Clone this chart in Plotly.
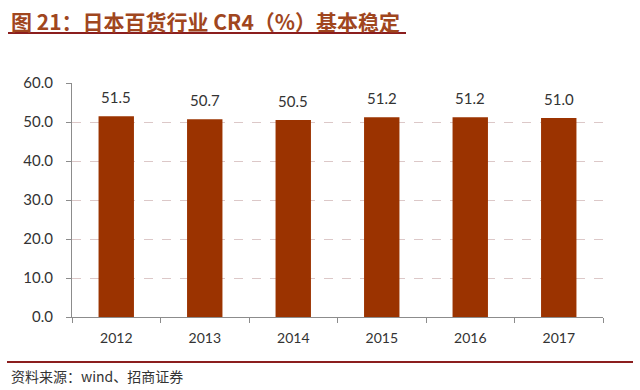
import plotly.graph_objects as go

years = ["2012", "2013", "2014", "2015", "2016", "2017"]
cr4 = [51.5, 50.7, 50.5, 51.2, 51.2, 51.0]
y_ticks = [0, 10, 20, 30, 40, 50, 60]

title_text = "图 21：日本百货行业 CR4（%）基本稳定"
source_text = "资料来源：wind、招商证券"

W, H = 640, 390
L, R, T, B = 72, 603, 83, 317
pw, ph = R - L, B - T

def px(x):
    return (x - L) / pw

def py(y):
    return (B - y) / ph

fig = go.Figure()
fig.add_trace(go.Bar(
    x=years, y=cr4,
    marker=dict(color="#9B3300", line=dict(width=0)),
    width=0.4,
    cliponaxis=False,
))

label_annots = [
    dict(x=i, y=v, xref="x", yref="y", text=f"{v:.1f}", showarrow=False,
         xanchor="center", yanchor="middle", yshift=19,
         font=dict(family="Lato, Liberation Sans, sans-serif", size=15, color="#333333"))
    for i, v in enumerate(cr4)
]

fig.update_layout(
    width=W, height=H,
    margin=dict(l=L, r=W - R, t=T, b=H - B, autoexpand=False),
    paper_bgcolor="white", plot_bgcolor="white",
    showlegend=False,
    font=dict(family="Lato, Liberation Sans, sans-serif", size=14, color="#333333"),
    xaxis=dict(
        type="category",
        range=[-0.5, len(years) - 0.5],
        showline=True, linecolor="#8c8c8c", linewidth=1,
        ticks="outside", ticklen=5, tickcolor="#8c8c8c",
        tickson="boundaries",
        ticklabelstandoff=8,
        showgrid=False,
        tickfont=dict(size=14, color="#333333"),
    ),
    yaxis=dict(
        range=[0, 60],
        tickvals=y_ticks,
        tickformat=".1f",
        showline=True, linecolor="#8c8c8c", linewidth=1,
        ticks="outside", ticklen=5, tickcolor="#8c8c8c",
        ticklabelstandoff=10,
        showgrid=True, gridcolor="#dcc8c8", griddash="dash", gridwidth=1,
        zeroline=False,
        tickfont=dict(size=15, color="#333333"),
    ),
    shapes=[
        dict(type="line", xref="paper", yref="paper",
             x0=px(8), x1=px(406), y0=py(33), y1=py(33),
             line=dict(color="#8B1E1E", width=2)),
        dict(type="line", xref="paper", yref="paper",
             x0=px(7), x1=px(633), y0=py(362), y1=py(362),
             line=dict(color="#8B1E1E", width=2)),
    ],
    annotations=label_annots + [
        dict(text="<b>" + title_text + "</b>", xref="paper", yref="paper",
             x=px(9), y=py(21), xanchor="left", yanchor="middle", showarrow=False,
             font=dict(family="Noto Sans CJK SC", size=21, color="#A0461E")),
        dict(text=source_text, xref="paper", yref="paper",
             x=px(9), y=py(376), xanchor="left", yanchor="middle", showarrow=False,
             font=dict(family="Noto Sans CJK SC", size=14, color="#333333")),
    ],
)

fig.write_html("out.html", config={"displayModeBar": False},
               post_script="document.body.style.margin='0';")
